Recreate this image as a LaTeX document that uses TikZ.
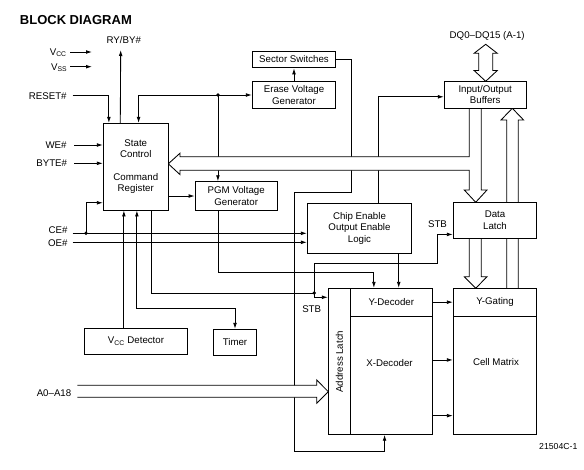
\documentclass[tikz,border=0pt]{standalone}
\usepackage{fontspec}
\setmainfont{Liberation Sans}
\usetikzlibrary{arrows.meta}
\begin{document}
\begin{tikzpicture}[x=1pt,y=-1pt,
  font=\fontsize{9.7}{11.2}\selectfont,
  line width=0.85pt,
  box/.style={draw, fill=white, inner sep=0pt, align=center},
  lbl/.style={inner sep=0pt},
  arr/.style={-{Latex[length=6pt,width=3.8pt]}},
  darr/.style={{Latex[length=6pt,width=3.8pt]}-{Latex[length=6pt,width=3.8pt]}},
  hollow/.style={draw, fill=white, line join=miter},
  dot/.style={fill=black}]
\useasboundingbox (0,0) rectangle (584,469);

% ---------- boxes (placed first for anchors; redrawn after buses) ----------
\path
  node[box, minimum width=65pt, minimum height=86.7pt] (sc) at (135.8,166.7) {State\\Control\\[11.2pt]Command\\Register}
  node[box, minimum width=83.4pt, minimum height=16.7pt] (ss) at (294,59.5) {Sector Switches}
  node[box, minimum width=83.4pt, minimum height=27.3pt] (evg) at (294,95) {Erase Voltage\\Generator}
  node[box, minimum width=82.3pt, minimum height=28.6pt] (pgm) at (236.2,196) {PGM Voltage\\Generator}
  node[box, minimum width=104.4pt, minimum height=50pt] (ce) at (359.5,228.3) {Chip Enable\\Output Enable\\Logic}
  node[box, minimum width=81.7pt, minimum height=27pt] (io) at (485.2,94.8) {Input/Output\\Buffers}
  node[box, minimum width=83.4pt, minimum height=36pt] (dl) at (495,220.3) {Data\\Latch}
  node[box, minimum width=22pt, minimum height=146pt] (al) at (339.3,361.3) {}
  node[box, minimum width=82pt, minimum height=27.7pt] (yd) at (391.3,302.15) {Y-Decoder}
  node[box, minimum width=82pt, minimum height=118.3pt] (xd) at (391.3,375.15) {}
  node[box, minimum width=83.4pt, minimum height=27.7pt] (yg) at (495,302.15) {Y-Gating}
  node[box, minimum width=83.4pt, minimum height=118.3pt] (cm) at (495,375.15) {}
  node[box, minimum width=103.4pt, minimum height=26pt] (vcc) at (136,341.3) {V\textsubscript{CC} Detector}
  node[box, minimum width=43.4pt, minimum height=26.4pt] (tim) at (235,342.5) {Timer};

% ---------- plain connectors ----------
\coordinate (vccS) at (70,52);   \coordinate (vccE) at (92,52);
\coordinate (vssS) at (70,66.7); \coordinate (vssE) at (92,66.7);
\draw[arr] (vccS) -- (vccE);
\draw[arr] (vssS) -- (vssE);

\coordinate (rstS) at (72.7,95.7);
\draw[arr] (rstS) -| ([xshift=6pt]sc.north west);

\coordinate (rybyE) at (120.7,50);
\draw[arr] ([xshift=17.4pt]sc.north west) -- (rybyE);

\coordinate (scTopIn) at ([xshift=35.7pt]sc.north west);
\draw[darr] (evg.west) -| (scTopIn);
\coordinate (pgmIn) at ([xshift=23.3pt]pgm.north west);
\coordinate (evdot) at (pgmIn |- evg.west);
\draw[arr] (evdot) -- (pgmIn);
\fill[dot] (evdot) circle (1.9pt);
\draw[arr] (evg.north) -- (ss.south);

\coordinate (xdIn) at ([xshift=34.7pt]xd.south west);
\draw[arr] (ss.east) -| (351,192.3) -| (294.3,451) -| (xdIn);

\coordinate (weS) at (74,145);    \draw[arr] (weS) -- (weS -| sc.west);
\coordinate (byteS) at (74,163.3); \draw[arr] (byteS) -- (byteS -| sc.west);

\coordinate (ceS) at (72.7,233.3); \draw[arr] (ceS) -- (ceS -| ce.west);
\coordinate (oeS) at (72.7,242.3); \draw[arr] (oeS) -- (oeS -| ce.west);
\coordinate (cedot) at (86,233.3);
\coordinate (scCE) at ([yshift=7.7pt]sc.south west);
\draw[arr] (cedot) |- (scCE);
\fill[dot] (cedot) circle (1.9pt);

\draw[arr] (sc.east |- pgm.west) -- (pgm.west);

\coordinate (pgmOut) at ([xshift=23.3pt]pgm.south west);
\coordinate (ydIn1) at ([xshift=24pt]yd.north west);
\draw[arr] (pgmOut) |- ([yshift=15.3pt]ydIn1) -- (ydIn1);

\coordinate (ceOut) at ([xshift=-13.4pt]ce.south east);
\draw[arr] (ceOut) -- (ceOut |- yd.north);

\coordinate (ceTop) at ([xshift=72pt]ce.north west);
\draw[arr] (ceTop) |- ([yshift=-2pt]io.west);

\coordinate (scB1) at ([xshift=21pt]sc.south west);
\draw[arr] (scB1 |- vcc.north) -- (scB1);
\coordinate (scB2) at ([xshift=34pt]sc.south west);
\draw[darr] (scB2) |- ([yshift=20pt]tim.north) -- (tim.north);
\coordinate (scB3) at ([xshift=49pt]sc.south west);
\coordinate (stbdot) at (314.3,293);
\draw (scB3) |- (stbdot);
\draw[arr] (stbdot) |- ([yshift=-9.4pt]al.north west);
\coordinate (dlIn) at ([yshift=4.3pt]dl.south west);
\draw[arr] (stbdot) |- (437.7,263.3) |- (dlIn);
\fill[dot] (stbdot) circle (1.9pt);

\draw[arr] (yd.east) -- (yg.west);
\coordinate (xm1) at ([yshift=15.2pt]xd.east);
\coordinate (xm2) at ([yshift=-40.5pt]xd.east);
\draw[arr] (xm1) -- (xm1 -| cm.west);
\draw[arr] (xm2) -- (xm2 -| cm.west);

% ---------- hollow bus arrows ----------
\filldraw[hollow] (485.7,44.3) -- (497.3,53.3) -- (492.7,53.3) -- (492.7,70.5) -- (497.3,70.5) -- (485.7,81.3)
  -- (474.1,70.5) -- (478.7,70.5) -- (478.7,53.3) -- (474.1,53.3) -- cycle;
\filldraw[hollow] (469.3,108.3) -- (469.3,156.7) -- (180,156.7) -- (180,153.2) -- (168.3,163.8) -- (180,174.6)
  -- (180,170.3) -- (469.3,170.3) -- (469.3,190) -- (464.3,190) -- (475.7,202.3) -- (487,190) -- (481.3,190) -- (481.3,108.3);
\filldraw[hollow] (469.3,238.3) -- (469.3,276.7) -- (464.3,276.7) -- (475.7,288.3) -- (487,276.7) -- (481.3,276.7) -- (481.3,238.3);
\filldraw[hollow] (506.7,288.3) -- (506.7,120) -- (501,120) -- (512.3,108.3) -- (523.6,120) -- (518.3,120) -- (518.3,288.3);
\filldraw[hollow] (77.3,385.3) -- (316.7,385.3) -- (316.7,380) -- (328.3,391.7) -- (316.7,403.2) -- (316.7,397.3) -- (77.3,397.3);

% ---------- boxes drawn on top ----------
\path
  node[box, minimum width=65pt, minimum height=86.7pt] at (sc) {State\\Control\\[11.2pt]Command\\Register}
  node[box, minimum width=83.4pt, minimum height=27.3pt] at (evg) {Erase Voltage\\Generator}
  node[box, minimum width=82.3pt, minimum height=28.6pt] at (pgm) {PGM Voltage\\Generator}
  node[box, minimum width=104.4pt, minimum height=50pt] at (ce) {Chip Enable\\Output Enable\\Logic}
  node[box, minimum width=81.7pt, minimum height=27pt] at (io) {Input/Output\\Buffers}
  node[box, minimum width=83.4pt, minimum height=36pt] at (dl) {Data\\Latch}
  node[box, minimum width=22pt, minimum height=146pt] at (al) {}
  node[box, minimum width=82pt, minimum height=27.7pt] at (yd) {Y-Decoder}
  node[box, minimum width=82pt, minimum height=118.3pt] at (xd) {}
  node[box, minimum width=83.4pt, minimum height=27.7pt] at (yg) {Y-Gating}
  node[box, minimum width=83.4pt, minimum height=118.3pt] at (cm) {};

\node[rotate=90] (alt) at (339.3,361.7) {Address Latch};
\node (xdt) at (389.5,363.3) {X-Decoder};
\node (cmt) at (496,361.7) {Cell Matrix};

% ---------- labels ----------
\node[lbl, anchor=west, font=\fontsize{13}{15}\selectfont\bfseries] (title) at (19.5,20) {BLOCK DIAGRAM};
\node[lbl] (ryby) at (123.8,40) {RY/BY\#};
\node[lbl] (dq) at (487.2,36) {DQ0–DQ15 (A-1)};
\node[lbl, font=\fontsize{8.7}{10}\selectfont] (fig) at (558.3,446) {21504C-1};
\node[lbl, anchor=east] (lvcc) at (67,52.5) {V\textsubscript{CC}};
\node[lbl, anchor=east] (lvss) at (67.5,67.5) {V\textsubscript{SS}};
\node[lbl, anchor=east] (lrst) at (67,95.7) {RESET\#};
\node[lbl, anchor=east] (lwe) at (67,145) {WE\#};
\node[lbl, anchor=east] (lbyte) at (67.5,163) {BYTE\#};
\node[lbl, anchor=east] (lce) at (68,229.8) {CE\#};
\node[lbl, anchor=east] (loe) at (68,243) {OE\#};
\node[lbl, anchor=east] (la) at (71.7,392.8) {A0–A18};
\node[lbl] (stb1) at (437.5,224.3) {STB};
\node[lbl] (stb2) at (311.7,308.7) {STB};
\end{tikzpicture}
\end{document}
